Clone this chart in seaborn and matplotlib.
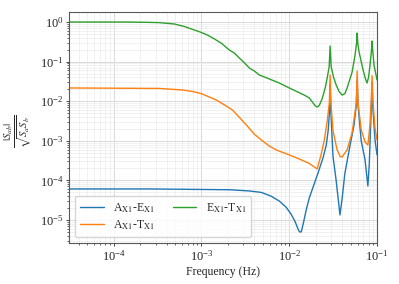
import numpy as np
import pandas as pd
import matplotlib
matplotlib.use("Agg")
import matplotlib.pyplot as plt
import seaborn as sns

# values (frequency in Hz, normalised cross-spectrum)
freq_ae = [3.1e-5, 2.56e-4, 2.08e-3, 3.5e-3, 4.8e-3, 6.2e-3, 7.7e-3, 9.2e-3, 1.05e-2,
           1.17e-2, 1.27e-2, 1.31e-2, 1.37e-2, 1.44e-2, 1.56e-2, 1.69e-2, 1.87e-2, 2.14e-2,
           2.44e-2, 2.64e-2, 2.78e-2, 2.88e-2, 2.92e-2, 2.97e-2, 3.15e-2,
           3.42e-2, 3.78e-2, 4.0e-2, 4.3e-2, 4.93e-2, 5.47e-2, 5.8e-2, 5.93e-2, 6.07e-2,
           6.6e-2, 7.3e-2, 7.86e-2, 8.15e-2, 8.6e-2, 8.77e-2, 8.95e-2, 9.5e-2, 0.1]
val_ae = [6.07e-5, 6.07e-5, 5.8e-5, 5.4e-5, 4.97e-5, 4.0e-5, 3.0e-5, 2.1e-5, 1.4e-5,
          8.9e-6, 5.6e-6, 5.0e-6, 5.0e-6, 7.9e-6, 1.79e-5, 3.6e-5, 6.8e-5, 1.6e-4,
          3.9e-4, 7.8e-4, 1.87e-3, 6.0e-3, 2.6e-2, 6.0e-3, 4.0e-4,
          1.0e-4, 1.34e-5, 3.5e-5, 1.5e-4, 7.8e-4, 2.5e-3, 8.0e-3, 3.4e-2, 8.0e-3,
          1.0e-3, 3.3e-4, 7.2e-5, 2.5e-4, 7.0e-3, 3.0e-2, 7.0e-3, 1.0e-3, 4.4e-4]

freq_at = [3.1e-5, 3.33e-4, 6.08e-4, 7.9e-4, 1.0e-3, 1.48e-3, 1.82e-3, 2.25e-3, 2.7e-3,
           3.25e-3, 4.0e-3, 4.8e-3, 5.9e-3, 7.1e-3, 1.0e-2, 1.3e-2, 1.69e-2, 2.08e-2,
           2.3e-2, 2.5e-2, 2.7e-2, 2.86e-2, 2.92e-2, 2.98e-2, 3.15e-2, 3.5e-2, 3.8e-2,
           4.0e-2, 4.56e-2, 5.2e-2, 5.8e-2, 5.93e-2, 6.07e-2, 6.6e-2, 7.3e-2, 7.86e-2,
           8.3e-2, 8.6e-2, 8.77e-2, 8.95e-2, 9.5e-2, 0.1]
val_at = [2.16e-2, 2.1e-2, 1.92e-2, 1.76e-2, 1.55e-2, 1.07e-2, 8.1e-3, 6.0e-3, 3.9e-3,
          2.5e-3, 1.47e-3, 1.05e-3, 7.4e-4, 5.86e-4, 4.4e-4, 3.47e-4, 2.67e-4, 1.94e-4,
          4.4e-4, 1.0e-3, 3.0e-3, 9.0e-3, 4.6e-2, 9.0e-3, 1.8e-3, 6.0e-4, 4.0e-4,
          3.9e-4, 5.9e-4, 1.6e-3, 9.0e-3, 5.8e-2, 9.0e-3, 1.9e-3, 9.3e-4, 7.8e-4,
          2.5e-3, 1.1e-2, 4.4e-2, 1.1e-2, 2.0e-3, 1.05e-3]

freq_et = [3.1e-5, 1.5e-4, 2.56e-4, 3.33e-4, 4.93e-4, 6.4e-4, 7.7e-4, 9.48e-4, 1.17e-3,
           1.41e-3, 1.7e-3, 2.08e-3, 2.37e-3, 2.7e-3, 3.1e-3, 3.51e-3, 4.0e-3, 4.56e-3,
           5.2e-3, 5.93e-3, 7.7e-3, 1.0e-2, 1.48e-2, 1.69e-2, 1.87e-2, 1.97e-2, 2.08e-2,
           2.19e-2, 2.37e-2, 2.57e-2, 2.7e-2, 2.85e-2, 2.92e-2, 3.0e-2, 3.2e-2, 3.42e-2,
           3.7e-2, 4.0e-2, 4.3e-2, 4.56e-2, 5.2e-2, 5.62e-2, 5.85e-2, 5.93e-2, 6.02e-2,
           6.24e-2, 6.93e-2, 7.4e-2, 7.69e-2, 8.0e-2, 8.32e-2, 8.65e-2, 8.77e-2, 8.9e-2,
           9.24e-2, 0.1]
val_et = [1.0, 1.0, 0.98, 0.966, 0.89, 0.77, 0.665, 0.569, 0.47,
          0.372, 0.287, 0.196, 0.165, 0.123, 0.092, 0.0689, 0.058, 0.0459,
          0.041, 0.0364, 0.0288, 0.0216, 0.0143, 0.0121, 0.009, 0.0077, 0.00714,
          0.0077, 0.0115, 0.022, 0.038, 0.075, 0.248, 0.075, 0.04, 0.0257,
          0.0175, 0.0143, 0.0155, 0.0216, 0.0546, 0.147, 0.3, 0.527, 0.3,
          0.175, 0.0614, 0.036, 0.0288, 0.04, 0.082, 0.2, 0.331, 0.2,
          0.082, 0.0343]

labels = [r"A$_{\rm X1}$-E$_{\rm X1}$", r"A$_{\rm X1}$-T$_{\rm X1}$", r"E$_{\rm X1}$-T$_{\rm X1}$"]

df = pd.concat([
    pd.DataFrame({"f": freq_ae, "v": val_ae, "pair": labels[0]}),
    pd.DataFrame({"f": freq_at, "v": val_at, "pair": labels[1]}),
    pd.DataFrame({"f": freq_et, "v": val_et, "pair": labels[2]}),
], ignore_index=True)

sns.set_style("ticks")
plt.rcParams["font.family"] = ["Liberation Serif", "DejaVu Serif"]
plt.rcParams["mathtext.fontset"] = "stix"

fig = plt.figure(figsize=(3.99, 2.84), dpi=100)
ax = fig.add_axes([0.173, 0.144, 0.772, 0.814])

sns.lineplot(data=df, x="f", y="v", hue="pair", hue_order=labels,
             palette=sns.color_palette("tab10", 3), estimator=None, sort=False,
             linewidth=1.0, ax=ax)

ax.set_xscale("log")
ax.set_yscale("log")
ax.set_xlim(3.1e-5, 0.1)
ax.set_ylim(2.6e-6, 1.8)
ax.grid(True, which="major", color="0.85", linewidth=0.7)
ax.grid(True, which="minor", color="0.92", linewidth=0.5)
ax.set_axisbelow(True)
for s in ax.spines.values():
    s.set_color("0.35")
ax.tick_params(labelsize=9, length=2.5, width=0.6, pad=1.5)
ax.tick_params(which="minor", length=1.5, width=0.5)

ax.set_xlabel("Frequency (Hz)", fontsize=8.5, labelpad=2)
ax.set_ylabel(r"$\frac{|S_{ab}|}{\sqrt{S_a S_b}}$", fontsize=11)
ax.yaxis.set_label_coords(-0.115, 0.485)

ax.legend(loc="lower left", ncol=2, fontsize=8.5, frameon=True, fancybox=True,
          handlelength=2.0, columnspacing=1.5, borderpad=0.45, labelspacing=0.3)

fig.savefig("out.png", dpi=100)
